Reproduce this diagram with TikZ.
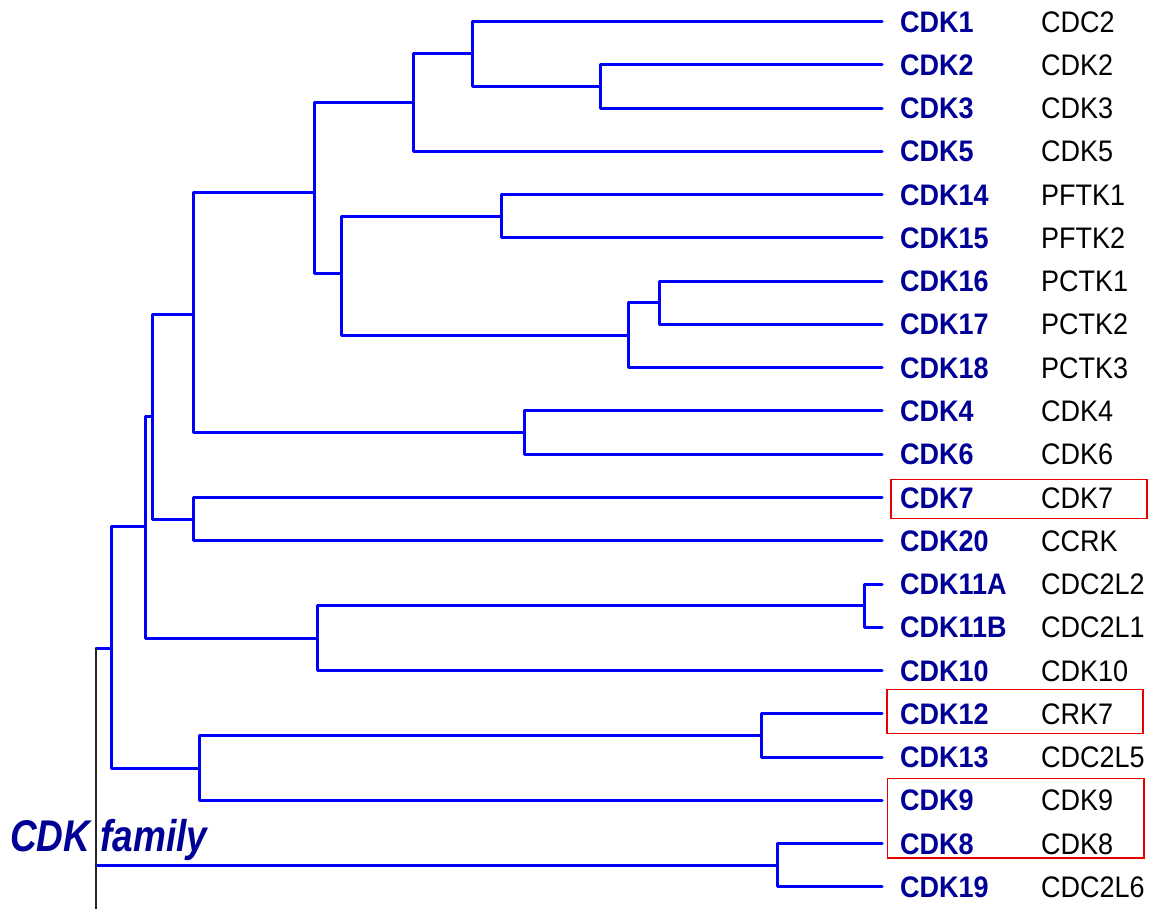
\documentclass[tikz,border=0pt]{standalone}
\usepackage{fontspec}
\setmainfont{Liberation Sans}
\definecolor{treeblue}{RGB}{0,0,255}
\definecolor{navy}{RGB}{0,0,150}
\definecolor{boxred}{RGB}{235,0,0}
\newcommand{\vstretch}[1]{\scalebox{1}[1.1]{#1}}
\begin{document}
\begin{tikzpicture}[x=1pt,y=-1pt,
  br/.style={draw=treeblue, line width=3pt, line join=round, line cap=round},
  rootline/.style={draw=black!85, line width=2.8pt},
  lbl/.style={anchor=west, inner sep=0pt, text height=21.2pt, text depth=0pt,
              font=\fontsize{27}{27}\selectfont\bfseries, text=navy},
  lbr/.style={anchor=west, inner sep=0pt, text height=21.2pt, text depth=0pt,
              font=\fontsize{27}{27}\selectfont, text=black},
  famlbl/.style={anchor=base west, inner sep=0pt,
              font=\fontsize{37}{37}\selectfont\bfseries\itshape, text=navy},
  redbox/.style={draw=boxred, line width=1.6pt}]
\useasboundingbox (0,0) rectangle (1153,909);

% leaves
\foreach \i/\a/\b in {1/CDK1/CDC2, 2/CDK2/CDK2, 3/CDK3/CDK3, 4/CDK5/CDK5,
  5/CDK14/PFTK1, 6/CDK15/PFTK2, 7/CDK16/PCTK1, 8/CDK17/PCTK2, 9/CDK18/PCTK3,
  10/CDK4/CDK4, 11/CDK6/CDK6, 12/CDK7/CDK7, 13/CDK20/CCRK, 14/CDK11A/CDC2L2,
  15/CDK11B/CDC2L1, 16/CDK10/CDK10, 17/CDK12/CRK7, 18/CDK13/CDC2L5,
  19/CDK9/CDK9, 20/CDK8/CDK8, 21/CDK19/CDC2L6}{
  \pgfmathsetmacro\yy{21.5+43.27*(\i-1)}
  \coordinate (e\i) at (882,\yy);
  \node[lbl] (a\i) at (900,\yy) {\vstretch{\a}};
  \node[lbr] (b\i) at (1041,\yy) {\vstretch{\b}};
}

% internal nodes
\coordinate (n23)   at (600,86.4);
\coordinate (nA)    at (472.7,54);
\coordinate (nB)    at (413,103);
\coordinate (n1415) at (501.7,216.2);
\coordinate (n1617) at (659,302.8);
\coordinate (n1618) at (628,335.5);
\coordinate (nC)    at (341,273.3);
\coordinate (nD)    at (314.5,192.3);
\coordinate (n46)   at (524.5,432.5);
\coordinate (nE)    at (193.3,314);
\coordinate (n720)  at (193.3,519);
\coordinate (nF)    at (152.3,416);
\coordinate (n11AB) at (864,605.6);
\coordinate (n1110) at (317,638);
\coordinate (nG)    at (145,526.7);
\coordinate (n1213) at (761,735.5);
\coordinate (n129)  at (199,768);
\coordinate (nH)    at (111.7,648);
\coordinate (n819)  at (777.5,865.3);
\coordinate (root)  at (96,648);
\coordinate (rootend) at (96,909);

% branches
\draw[br] (n23) |- (e2);   \draw[br] (n23) |- (e3);
\draw[br] (nA) |- (e1);    \draw[br] (nA) |- (n23);
\draw[br] (nB) |- (nA);    \draw[br] (nB) |- (e4);
\draw[br] (n1415) |- (e5); \draw[br] (n1415) |- (e6);
\draw[br] (n1617) |- (e7); \draw[br] (n1617) |- (e8);
\draw[br] (n1618) |- (n1617); \draw[br] (n1618) |- (e9);
\draw[br] (nC) |- (n1415); \draw[br] (nC) |- (n1618);
\draw[br] (nD) |- (nB);    \draw[br] (nD) |- (nC);
\draw[br] (n46) |- (e10);  \draw[br] (n46) |- (e11);
\draw[br] (nE) |- (nD);    \draw[br] (nE) |- (n46);
\draw[br] (n720) |- (e12); \draw[br] (n720) |- (e13);
\draw[br] (nF) |- (nE);    \draw[br] (nF) |- (n720);
\draw[br] (n11AB) |- (e14); \draw[br] (n11AB) |- (e15);
\draw[br] (n1110) |- (n11AB); \draw[br] (n1110) |- (e16);
\draw[br] (nG) |- (nF);    \draw[br] (nG) |- (n1110);
\draw[br] (n1213) |- (e17); \draw[br] (n1213) |- (e18);
\draw[br] (n129) |- (n1213); \draw[br] (n129) |- (e19);
\draw[br] (nH) |- (nG);    \draw[br] (nH) |- (n129);
\draw[br] (n819) |- (e20); \draw[br] (n819) |- (e21);
\draw[br] (root) -- (nH);
\draw[br] (rootend |- n819) -- (n819);
\draw[rootline] (root) -- (rootend);

% family label
\node[famlbl] (fam) at (10,851.7) {\scalebox{1}[1.2]{CDK family}};

% highlight boxes
\draw[redbox] (891,479.3) rectangle (1146.7,518.3);
\draw[redbox] (886.7,689.3) rectangle (1142.7,733.3);
\draw[redbox] (887.3,778.3) rectangle (1144,857.7);
\end{tikzpicture}
\end{document}
